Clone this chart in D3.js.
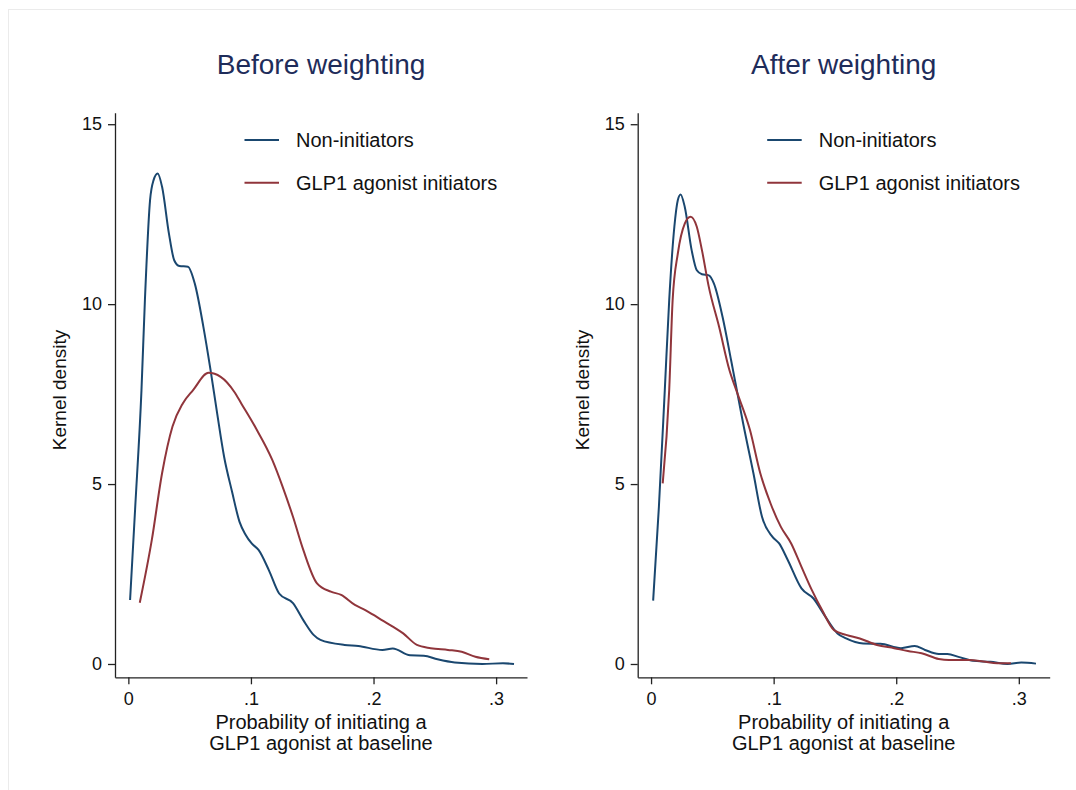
<!DOCTYPE html>
<html>
<head>
<meta charset="utf-8">
<script src="https://cdn.jsdelivr.net/npm/d3@7"></script>
<style>
	body { margin: 0; background: #ffffff; }
	svg text { font-family: 'Liberation Sans', Arial, Helvetica, sans-serif; }
</style>
</head>
<body>
<svg id="chart" width="1076" height="790"></svg>
<script>

var aPanelTitles = ['Before weighting', 'After weighting'];
var aSeriesNames = ['Non-initiators', 'GLP1 agonist initiators'];
var aXTicks = [0, 0.1, 0.2, 0.3];
var aXTickLabels = ['0', '.1', '.2', '.3'];
var aYTicks = [0, 5, 10, 15];
var aXTitleLines = ['Probability of initiating a', 'GLP1 agonist at baseline'];
var strYTitle = 'Kernel density';

// [probability, density]
var aBeforeNonInit = [[0.0014,1.78],[0.0055,4.3],[0.0107,7.61],[0.0135,10.11],[0.0177,12.89],[0.0205,13.44],[0.0239,13.63],[0.0275,13.26],[0.0331,11.96],[0.0374,11.22],[0.0416,11.06],[0.0486,11.04],[0.0542,10.57],[0.0612,9.37],[0.0669,8.2],[0.0725,6.95],[0.0781,5.76],[0.0845,4.8],[0.0907,3.95],[0.0955,3.6],[0.1006,3.35],[0.1062,3.17],[0.1146,2.61],[0.123,1.96],[0.1343,1.69],[0.1427,1.22],[0.1511,0.81],[0.1567,0.67],[0.1764,0.53],[0.1876,0.5],[0.2073,0.39],[0.2157,0.43],[0.2298,0.24],[0.241,0.23],[0.2522,0.13],[0.2663,0.04],[0.2888,0],[0.3056,0.02],[0.3146,0]];
var aBeforeGlp1 = [[0.0093,1.7],[0.0191,3.44],[0.0275,5.3],[0.036,6.6],[0.0444,7.24],[0.0528,7.61],[0.0654,8.09],[0.0753,7.98],[0.0865,7.56],[0.0921,7.24],[0.1034,6.59],[0.1174,5.67],[0.1258,4.93],[0.1343,4.09],[0.1427,3.17],[0.1539,2.24],[0.1652,2.01],[0.1736,1.92],[0.1848,1.64],[0.1933,1.5],[0.2045,1.27],[0.2157,1.04],[0.2242,0.85],[0.2354,0.53],[0.2466,0.44],[0.2607,0.39],[0.2719,0.34],[0.2831,0.2],[0.2944,0.13]];
var aAfterNonInit = [[0.0017,1.76],[0.0064,4.37],[0.0112,7.61],[0.0148,10.11],[0.019,12.15],[0.0218,12.89],[0.0241,13.05],[0.0275,12.7],[0.0331,11.5],[0.0373,10.94],[0.0415,10.83],[0.0471,10.8],[0.0513,10.57],[0.0583,9.65],[0.0653,8.44],[0.0689,7.8],[0.0751,6.69],[0.0835,5.3],[0.0905,4.09],[0.0989,3.54],[0.1045,3.35],[0.1115,2.89],[0.1227,2.1],[0.1325,1.82],[0.1423,1.31],[0.1521,0.85],[0.1591,0.71],[0.1731,0.57],[0.1871,0.56],[0.2039,0.44],[0.2151,0.5],[0.2235,0.39],[0.2347,0.28],[0.2417,0.28],[0.2515,0.19],[0.2627,0.09],[0.2768,0.06],[0.2908,0],[0.302,0.04],[0.314,0.01]];
var aAfterGlp1 = [[0.0095,5.02],[0.0148,7.61],[0.0176,10.11],[0.0218,11.4],[0.0275,12.24],[0.0322,12.43],[0.0373,12.15],[0.0415,11.5],[0.0471,10.48],[0.0555,9.37],[0.0639,8.17],[0.0695,7.61],[0.0807,6.5],[0.0891,5.3],[0.0975,4.46],[0.1059,3.81],[0.1143,3.35],[0.1227,2.7],[0.1311,2.06],[0.1395,1.5],[0.1493,0.94],[0.1591,0.81],[0.1703,0.71],[0.1843,0.53],[0.1983,0.44],[0.2095,0.36],[0.2207,0.3],[0.2347,0.14],[0.2431,0.11],[0.2599,0.11],[0.2711,0.07],[0.2824,0.02],[0.2936,0.02]];

var aSeriesColors = ['#1a476f', '#90353b'];
var strTitleColor = '#1e2c5a';
var strAxisColor = '#222222';

var sSvg = d3.select('#chart');

// faint frame of the exported graph
sSvg.append('rect')
	.attr('x', 8.5)
	.attr('y', 9.5)
	.attr('width', 1100)
	.attr('height', 800)
	.attr('fill', 'none')
	.attr('stroke', '#ebebeb');

const nPlotTop = 112.7;
const nPlotBottom = 677.3;
const nPlotWidth = 412;

var y = d3.scaleLinear()
	.domain([-0.37, 15.32])
	.range([nPlotBottom, nPlotTop]);

function DrawPanel(nLeft, strTitle, aSeries)
{
	var x = d3.scaleLinear()
		.domain([-0.0109, 0.3252])
		.range([nLeft, nLeft + nPlotWidth]);

	var nCenter = nLeft + nPlotWidth / 2;

	sSvg.append('text')
		.attr('x', nCenter)
		.attr('y', 74)
		.attr('text-anchor', 'middle')
		.attr('font-size', 28)
		.attr('fill', strTitleColor)
		.text(strTitle);

	var sYAxis = sSvg.append('g')
		.attr('transform', 'translate(' + nLeft + ',0)')
		.call(d3.axisLeft(y).tickValues(aYTicks).tickSize(7).tickSizeOuter(0).tickPadding(6));

	var sXAxis = sSvg.append('g')
		.attr('transform', 'translate(0,' + nPlotBottom + ')')
		.call(d3.axisBottom(x).tickValues(aXTicks)
			.tickFormat(function(d, i) { return aXTickLabels[i]; })
			.tickSize(7).tickSizeOuter(0).tickPadding(8));

	[sYAxis, sXAxis].forEach(function(sAxis)
	{
		sAxis.attr('font-size', 18).attr('font-family', null);
		sAxis.selectAll('path,line').attr('stroke', strAxisColor).attr('stroke-width', 1.3);
		sAxis.selectAll('text').attr('fill', '#111111');
	});

	sSvg.append('text')
		.attr('transform', 'translate(' + (nLeft - 49) + ',390) rotate(-90)')
		.attr('text-anchor', 'middle')
		.attr('font-size', 19)
		.attr('fill', '#111111')
		.text(strYTitle);

	aXTitleLines.forEach(function(strLine, i)
	{
		sSvg.append('text')
			.attr('x', nCenter)
			.attr('y', 728.5 + i * 21)
			.attr('text-anchor', 'middle')
			.attr('font-size', 20)
			.attr('fill', '#111111')
			.text(strLine);
	});

	var fnLine = d3.line()
		.x(function(d) { return x(d[0]); })
		.y(function(d) { return y(d[1]); })
		.curve(d3.curveMonotoneX);

	aSeries.forEach(function(aPoints, i)
	{
		sSvg.append('path')
			.datum(aPoints)
			.attr('d', fnLine)
			.attr('fill', 'none')
			.attr('stroke', aSeriesColors[i])
			.attr('stroke-width', 2)
			.attr('stroke-linejoin', 'round');
	});

	// legend
	aSeriesNames.forEach(function(strName, i)
	{
		var nY = 140 + i * 42.7;
		sSvg.append('line')
			.attr('x1', nLeft + 129.5)
			.attr('x2', nLeft + 164)
			.attr('y1', nY)
			.attr('y2', nY)
			.attr('stroke', aSeriesColors[i])
			.attr('stroke-width', 2);
		sSvg.append('text')
			.attr('x', nLeft + 181)
			.attr('y', nY)
			.attr('dy', '0.36em')
			.attr('font-size', 20)
			.attr('fill', '#111111')
			.text(strName);
	});
}

DrawPanel(115, aPanelTitles[0], [aBeforeNonInit, aBeforeGlp1]);
DrawPanel(637.7, aPanelTitles[1], [aAfterNonInit, aAfterGlp1]);

</script>
</body>
</html>
